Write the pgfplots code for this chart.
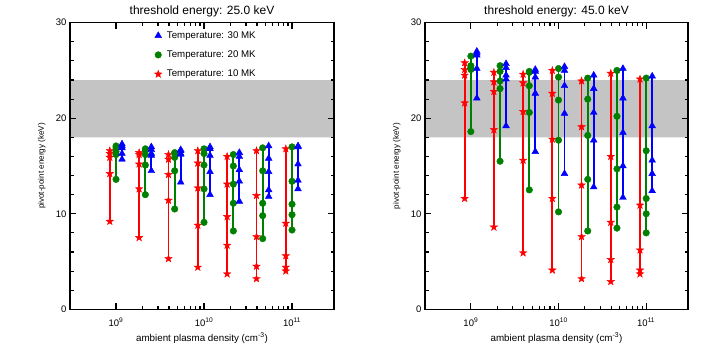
\documentclass[border=0pt]{standalone}
\usepackage{pgfplots}
\pgfplotsset{compat=1.18}
\usepackage{fontspec}
\setmainfont{Liberation Sans}
\definecolor{bandgray}{RGB}{196,196,196}
\definecolor{dgreen}{RGB}{0,128,0}
\pgfdeclareplotmark{fstar}{%
 \pgfpathmoveto{\pgfpointpolar{90}{\pgfplotmarksize}}%
 \pgfpathlineto{\pgfpointpolar{126}{0.4\pgfplotmarksize}}%
 \pgfpathlineto{\pgfpointpolar{162}{\pgfplotmarksize}}%
 \pgfpathlineto{\pgfpointpolar{198}{0.4\pgfplotmarksize}}%
 \pgfpathlineto{\pgfpointpolar{234}{\pgfplotmarksize}}%
 \pgfpathlineto{\pgfpointpolar{270}{0.4\pgfplotmarksize}}%
 \pgfpathlineto{\pgfpointpolar{306}{\pgfplotmarksize}}%
 \pgfpathlineto{\pgfpointpolar{342}{0.4\pgfplotmarksize}}%
 \pgfpathlineto{\pgfpointpolar{18}{\pgfplotmarksize}}%
 \pgfpathlineto{\pgfpointpolar{54}{0.4\pgfplotmarksize}}%
 \pgfpathclose
 \pgfusepathqfillstroke}
\tikzset{
 rser/.style={red, line width=1.7pt, mark=fstar, mark size=3.9pt, mark options={solid, fill=red, line width=0.4pt}},
 gser/.style={dgreen, line width=1.7pt, mark=*, mark size=3.3pt, mark options={solid, fill=dgreen, line width=0.4pt}},
 bser/.style={blue, line width=1.7pt, mark=triangle*, mark size=3.9pt, mark options={solid, fill=blue, line width=0.4pt}},
}
\pgfplotsset{
 every axis/.append style={
  scale only axis, height=286.6pt,
  xmode=log, xmin=3e8, xmax=3e11, ymin=0, ymax=30,
  ytick={0,10,20,30}, minor y tick num=4,
  xtick={1e9,1e10,1e11},
  tick label style={font=\fontsize{9.5}{10}\selectfont},
  xticklabel style={anchor=base, yshift=-17pt},
  every axis title/.style={at={(0.5,1)}, anchor=base, yshift=8.5pt, font=\fontsize{12}{13}\selectfont},
  xlabel style={at={(axis description cs:0.5,0)}, anchor=base, yshift=-32pt, font=\fontsize{9.8}{11}\selectfont},
  ylabel style={at={(axis description cs:-0.107,0.5)}, anchor=center, font=\fontsize{8.1}{9}\selectfont},
  unbounded coords=jump,
  every outer x axis line/.append style={black, line width=1.2pt},
  every outer y axis line/.append style={black, line width=1.2pt},
  every tick/.append style={black, line width=1.1pt},
  major tick length=6pt, minor tick length=3.5pt,
  /pgf/number format/assume math mode=true,
 },
 labelled/.style={
  xticklabels={10\textsuperscript{9},10\textsuperscript{10},10\textsuperscript{11}},
  xlabel={ambient plasma density (cm\textsuperscript{-3})},
  ylabel={pivot-point energy (keV)},
 },
 overlay frame/.style={xticklabels={}, yticklabels={}},
}
\begin{document}
\begin{tikzpicture}
\useasboundingbox (0,0) rectangle (709pt,354pt);
% ---------------- left panel ----------------
\begin{axis}[labelled, at={(70pt,44.7pt)}, anchor=south west, width=264pt,
  title={threshold energy: 25.0 keV},
  legend style={at={(0.308,0.984)}, anchor=north west, draw=none, fill=none,
    font=\fontsize{9.7}{11}\selectfont, row sep=7pt, cells={anchor=west},
    /tikz/every odd column/.style={column sep=3pt}}]
\addlegendimage{only marks, blue, mark=triangle*, mark size=3.9pt}
\addlegendentry{Temperature: 30 MK}
\addlegendimage{only marks, dgreen, mark=*, mark size=3.3pt}
\addlegendentry{Temperature: 20 MK}
\addlegendimage{only marks, red, mark=fstar, mark size=3.9pt}
\addlegendentry{Temperature: 10 MK}
\addplot[fill=bandgray, draw=none, forget plot] coordinates {(3e8,18) (3e11,18) (3e11,24) (3e8,24) (3e8,18)};
% red, T = 10 MK
\addplot[rser, forget plot] coordinates {
 (8.5e8,16.6) (8.5e8,16.3) (8.5e8,15.9) (8.5e8,14.2) (8.5e8,9.2) (8.5e8,nan)
 (1.831e9,16.4) (1.831e9,16.2) (1.831e9,15.2) (1.831e9,12.6) (1.831e9,7.5) (1.831e9,nan)
 (3.946e9,16.2) (3.946e9,15.7) (3.946e9,14.1) (3.946e9,11.4) (3.946e9,5.3) (3.946e9,nan)
 (8.5e9,16.6) (8.5e9,15.3) (8.5e9,12.7) (8.5e9,8.8) (8.5e9,4.4) (8.5e9,nan)
 (1.831e10,16.0) (1.831e10,13.1) (1.831e10,9.7) (1.831e10,6.7) (1.831e10,3.7) (1.831e10,nan)
 (3.946e10,16.6) (3.946e10,11.9) (3.946e10,7.6) (3.946e10,4.5) (3.946e10,3.2) (3.946e10,nan)
 (8.5e10,16.8) (8.5e10,9.0) (8.5e10,5.6) (8.5e10,4.4) (8.5e10,4.0)
};
% green, T = 20 MK
\addplot[gser, forget plot] coordinates {
 (1e9,17.1) (1e9,16.9) (1e9,16.5) (1e9,16.2) (1e9,13.6) (1e9,nan)
 (2.154e9,16.8) (2.154e9,16.6) (2.154e9,16.2) (2.154e9,15.1) (2.154e9,12.0) (2.154e9,nan)
 (4.642e9,16.4) (4.642e9,16.3) (4.642e9,15.9) (4.642e9,14.5) (4.642e9,10.5) (4.642e9,nan)
 (1e10,16.8) (1e10,16.3) (1e10,15.1) (1e10,12.6) (1e10,9.1) (1e10,nan)
 (2.154e10,16.2) (2.154e10,15.0) (2.154e10,13.1) (2.154e10,11.1) (2.154e10,8.2) (2.154e10,nan)
 (4.642e10,16.9) (4.642e10,14.5) (4.642e10,11.1) (4.642e10,9.8) (4.642e10,7.4) (4.642e10,nan)
 (1e11,17.0) (1e11,13.4) (1e11,11.0) (1e11,9.9) (1e11,8.3)
};
% blue, T = 30 MK
\addplot[bser, forget plot] coordinates {
 (1.17e9,17.3) (1.17e9,17.1) (1.17e9,16.9) (1.17e9,16.3) (1.17e9,15.7) (1.17e9,nan)
 (2.52e9,17.0) (2.52e9,16.7) (2.52e9,16.3) (2.52e9,16.1) (2.52e9,14.5) (2.52e9,nan)
 (5.431e9,16.7) (5.431e9,16.6) (5.431e9,16.3) (5.431e9,16.2) (5.431e9,13.3) (5.431e9,nan)
 (1.17e10,17.0) (1.17e10,16.8) (1.17e10,16.1) (1.17e10,14.4) (1.17e10,12.0) (1.17e10,nan)
 (2.52e10,16.4) (2.52e10,16.0) (2.52e10,14.6) (2.52e10,13.4) (2.52e10,11.3) (2.52e10,nan)
 (5.431e10,17.1) (5.431e10,15.8) (5.431e10,14.4) (5.431e10,12.5) (5.431e10,11.8) (5.431e10,nan)
 (1.17e11,17.1) (1.17e11,17.0) (1.17e11,15.2) (1.17e11,13.5) (1.17e11,12.6)
};
\end{axis}
\begin{axis}[overlay frame, at={(70pt,44.7pt)}, anchor=south west, width=264pt]
\end{axis}
% ---------------- right panel ----------------
\begin{axis}[labelled, at={(425pt,44.7pt)}, anchor=south west, width=263pt,
  title={threshold energy: 45.0 keV}]
\addplot[fill=bandgray, draw=none, forget plot] coordinates {(3e8,18) (3e11,18) (3e11,24) (3e8,24) (3e8,18)};
\addplot[rser, forget plot] coordinates {
 (8.5e8,25.8) (8.5e8,25.1) (8.5e8,24.5) (8.5e8,21.6) (8.5e8,11.6) (8.5e8,nan)
 (1.831e9,24.8) (1.831e9,23.8) (1.831e9,22.8) (1.831e9,18.8) (1.831e9,8.6) (1.831e9,nan)
 (3.946e9,24.6) (3.946e9,23.7) (3.946e9,20.7) (3.946e9,15.6) (3.946e9,5.9) (3.946e9,nan)
 (8.5e9,25.0) (8.5e9,22.6) (8.5e9,17.8) (8.5e9,11.6) (8.5e9,4.1) (8.5e9,nan)
 (1.831e10,23.9) (1.831e10,19.1) (1.831e10,13.0) (1.831e10,7.6) (1.831e10,3.2) (1.831e10,nan)
 (3.946e10,24.7) (3.946e10,16.0) (3.946e10,9.1) (3.946e10,5.2) (3.946e10,2.9) (3.946e10,nan)
 (8.5e10,24.1) (8.5e10,10.9) (8.5e10,6.2) (8.5e10,4.1) (8.5e10,3.7)
};
\addplot[gser, forget plot] coordinates {
 (1e9,26.5) (1e9,25.5) (1e9,25.3) (1e9,25.1) (1e9,18.6) (1e9,nan)
 (2.154e9,25.5) (2.154e9,24.9) (2.154e9,23.9) (2.154e9,23.1) (2.154e9,15.5) (2.154e9,nan)
 (4.642e9,24.9) (4.642e9,24.8) (4.642e9,23.4) (4.642e9,20.6) (4.642e9,12.5) (4.642e9,nan)
 (1e10,25.2) (1e10,24.3) (1e10,21.9) (1e10,17.7) (1e10,10.2) (1e10,nan)
 (2.154e10,24.2) (2.154e10,22.0) (2.154e10,18.2) (2.154e10,13.6) (2.154e10,8.2) (2.154e10,nan)
 (4.642e10,25.0) (4.642e10,20.2) (4.642e10,14.7) (4.642e10,10.7) (4.642e10,8.5) (4.642e10,nan)
 (1e11,24.2) (1e11,16.6) (1e11,11.6) (1e11,10.0) (1e11,8.0)
};
\addplot[bser, forget plot] coordinates {
 (1.17e9,27.0) (1.17e9,26.8) (1.17e9,26.6) (1.17e9,25.2) (1.17e9,22.1) (1.17e9,nan)
 (2.52e9,25.7) (2.52e9,25.3) (2.52e9,24.5) (2.52e9,24.1) (2.52e9,19.2) (2.52e9,nan)
 (5.431e9,25.1) (5.431e9,24.9) (5.431e9,24.3) (5.431e9,22.6) (5.431e9,16.5) (5.431e9,nan)
 (1.17e10,25.4) (1.17e10,25.0) (1.17e10,23.4) (1.17e10,20.5) (1.17e10,14.2) (1.17e10,nan)
 (2.52e10,24.5) (2.52e10,23.1) (2.52e10,20.6) (2.52e10,17.7) (2.52e10,12.8) (2.52e10,nan)
 (5.431e10,25.2) (5.431e10,22.1) (5.431e10,18.5) (5.431e10,15.0) (5.431e10,11.7) (5.431e10,nan)
 (1.17e11,24.4) (1.17e11,19.2) (1.17e11,15.6) (1.17e11,14.2) (1.17e11,12.4)
};
\end{axis}
\begin{axis}[overlay frame, at={(425pt,44.7pt)}, anchor=south west, width=263pt]
\end{axis}
\end{tikzpicture}
\end{document}
